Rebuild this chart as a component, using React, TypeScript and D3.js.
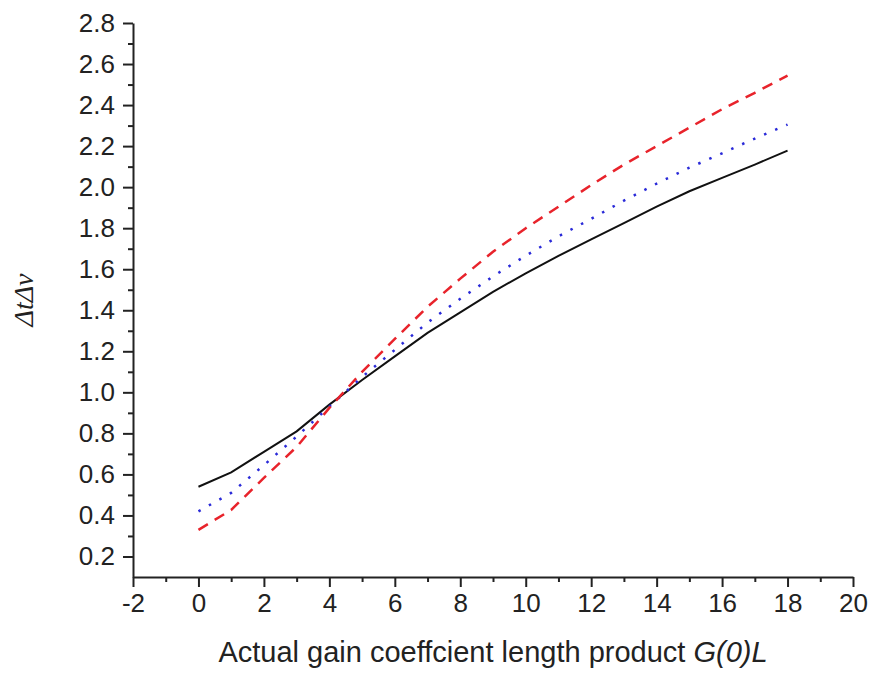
import { useEffect, useRef } from 'react';
import * as d3 from 'd3';

// G(0)L values
const gainLength = [0, 1, 2, 3, 4, 5, 6, 7, 8, 9, 10, 11, 12, 13, 14, 15, 16, 17, 18];

// series
const solidSeries = [0.54, 0.61, 0.71, 0.81, 0.94, 1.06, 1.175, 1.29, 1.39, 1.49, 1.58, 1.665, 1.745, 1.825, 1.905, 1.98, 2.045, 2.11, 2.178];
const dottedSeries = [0.42, 0.51, 0.645, 0.785, 0.93, 1.075, 1.207, 1.34, 1.456, 1.565, 1.666, 1.76, 1.846, 1.934, 2.017, 2.095, 2.165, 2.237, 2.305];
const dashedSeries = [0.33, 0.427, 0.583, 0.734, 0.924, 1.1, 1.26, 1.417, 1.554, 1.685, 1.8, 1.905, 2.01, 2.11, 2.2, 2.29, 2.38, 2.46, 2.544];

const xTicks = [-2, 0, 2, 4, 6, 8, 10, 12, 14, 16, 18, 20];
const yTicks = [0.2, 0.4, 0.6, 0.8, 1.0, 1.2, 1.4, 1.6, 1.8, 2.0, 2.2, 2.4, 2.6, 2.8];

export default function App() {
  const svgRef = useRef<SVGSVGElement>(null);

  useEffect(() => {
    if (!svgRef.current) return;
    const svg = d3.select(svgRef.current);
    svg.selectAll('*').remove();

    const width = 872;
    const height = 673;
    const left = 133;
    const right = 853;
    const top = 23;
    const bottom = 577;
    const font = '"Liberation Sans", Arial, sans-serif';

    svg.attr('width', width).attr('height', height);

    const x = d3.scaleLinear().domain([-2, 20]).range([left, right]);
    const y = d3.scaleLinear().domain([0.1, 2.8]).range([bottom, top]);

    // x axis (plain hyphen for negatives, as in the figure)
    const xAxis = svg.append('g')
      .attr('transform', `translate(0,${bottom})`)
      .call(d3.axisBottom(x).tickValues(xTicks).tickSize(10).tickSizeOuter(0).tickPadding(7).tickFormat(d => String(d)));
    xAxis.append('g')
      .call(d3.axisBottom(x).tickValues(d3.range(-1, 20, 2)).tickSize(5).tickFormat(() => ''))
      .select('.domain').remove();

    // y axis
    const yAxis = svg.append('g')
      .attr('transform', `translate(${left},0)`)
      .call(d3.axisLeft(y).tickValues(yTicks).tickSize(10).tickSizeOuter(0).tickPadding(8).tickFormat(d3.format('.1f')));
    yAxis.append('g')
      .call(d3.axisLeft(y).tickValues(d3.range(0.3, 2.75, 0.2)).tickSize(5).tickFormat(() => ''))
      .select('.domain').remove();

    svg.selectAll('.domain').attr('stroke', '#222').attr('stroke-width', 2);
    svg.selectAll('.tick line').attr('stroke', '#222').attr('stroke-width', 2);
    svg.selectAll('.tick text')
      .attr('fill', '#222')
      .attr('font-family', font)
      .attr('font-size', '26px');

    const line = d3.line<number>()
      .x((_, i) => x(gainLength[i]))
      .y(d => y(d));

    svg.append('path')
      .datum(solidSeries)
      .attr('fill', 'none')
      .attr('stroke', '#111')
      .attr('stroke-width', 2)
      .attr('d', line);

    svg.append('path')
      .datum(dottedSeries)
      .attr('fill', 'none')
      .attr('stroke', '#2a2ad8')
      .attr('stroke-width', 2.5)
      .attr('stroke-dasharray', '2.5 9.5')
      .attr('d', line);

    svg.append('path')
      .datum(dashedSeries)
      .attr('fill', 'none')
      .attr('stroke', '#e8232b')
      .attr('stroke-width', 2.5)
      .attr('stroke-dasharray', '11 8')
      .attr('d', line);

    // x axis title
    const xTitle = svg.append('text')
      .attr('x', (left + right) / 2)
      .attr('y', 662)
      .attr('text-anchor', 'middle')
      .attr('fill', '#222')
      .attr('font-family', font)
      .attr('font-size', '29px');
    xTitle.append('tspan').text('Actual gain coeffcient length product ');
    xTitle.append('tspan').attr('font-style', 'italic').text('G(0)L');

    // y axis title
    svg.append('text')
      .attr('transform', `translate(33,${(top + bottom) / 2}) rotate(-90)`)
      .attr('text-anchor', 'middle')
      .attr('fill', '#222')
      .attr('font-family', '"Liberation Serif", "Times New Roman", serif')
      .attr('font-style', 'italic')
      .attr('font-size', '28px')
      .text('ΔtΔν');
  }, []);

  return (
    <svg ref={svgRef} style={{ position: 'absolute', left: 0, top: 0, background: 'white' }}></svg>
  );
}
